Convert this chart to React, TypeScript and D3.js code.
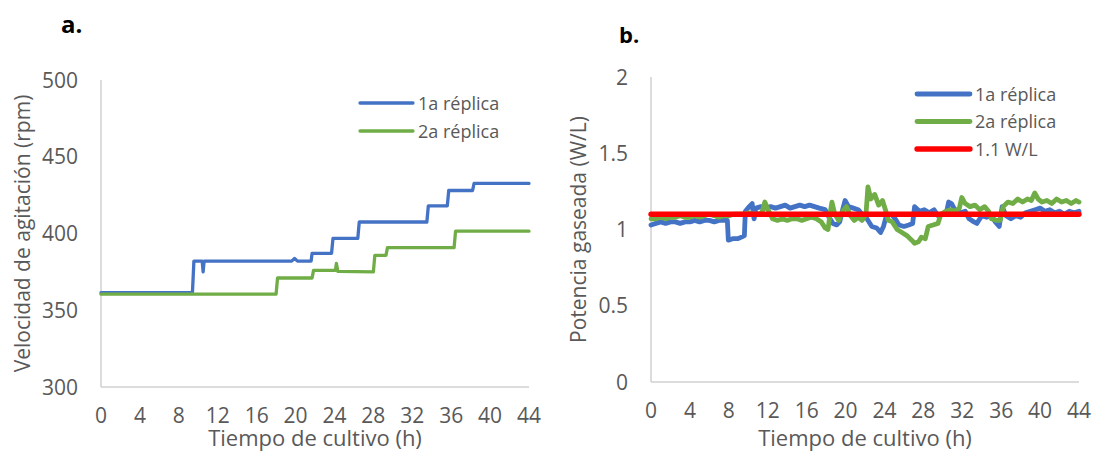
import React from "react";
import * as d3 from "d3";

type Pt = [number, number];

// Shared axis ticks
const hourTicks = [0, 4, 8, 12, 16, 20, 24, 28, 32, 36, 40, 44];
const rpmTicks = [300, 350, 400, 450, 500];
const powerTicks = [0, 0.5, 1, 1.5, 2];

// Agitation speed (rpm) vs culture time (h)
const rpmReplica1: Pt[] = [
  [0, 361.4], [9.4, 361.4], [9.55, 382], [10.4, 382], [10.5, 375], [10.6, 382],
  [19.6, 382], [19.9, 383.8], [20.2, 382], [21.6, 382], [21.7, 387], [23.7, 387],
  [23.85, 396.8], [26.4, 396.8], [26.55, 407.5], [33.5, 407.5], [33.65, 418],
  [35.6, 418], [35.75, 428], [38.2, 428], [38.35, 432.6], [44, 432.6],
];
const rpmReplica2: Pt[] = [
  [0, 360.5], [18.0, 360.5], [18.15, 371], [21.7, 371], [21.85, 376], [24.1, 376],
  [24.2, 380.5], [24.35, 375.3], [28.0, 375], [28.15, 385.8], [29.3, 385.8],
  [29.45, 390.8], [36.3, 390.8], [36.45, 401.5], [44, 401.5],
];

// Gassed power (W/L) vs culture time (h)
const powerReplica1: Pt[] = [
  [0, 1.03], [0.5, 1.04], [1, 1.05], [1.5, 1.04], [2, 1.05], [2.5, 1.05], [3, 1.04],
  [3.5, 1.05], [4, 1.05], [4.5, 1.06], [5, 1.05], [5.5, 1.06], [6, 1.06], [6.5, 1.05],
  [7, 1.06], [7.5, 1.06], [7.85, 1.06], [7.95, 0.93], [8.4, 0.94], [8.9, 0.94],
  [9.3, 0.95], [9.6, 0.96], [9.7, 1.12], [10.1, 1.15], [10.4, 1.17], [10.6, 1.07],
  [10.8, 1.14], [11.3, 1.15], [11.8, 1.14], [12.3, 1.15], [12.8, 1.14], [13.3, 1.15],
  [13.8, 1.16], [14.3, 1.14], [14.8, 1.15], [15.3, 1.16], [15.8, 1.15], [16.3, 1.16],
  [16.8, 1.15], [17.3, 1.14], [17.9, 1.13], [18.3, 1.08], [18.7, 1.04], [19.1, 1.03],
  [19.4, 1.05], [19.7, 1.13], [19.95, 1.19], [20.3, 1.15], [20.8, 1.14], [21.3, 1.13],
  [21.7, 1.1], [22.2, 1.07], [22.7, 1.02], [23.2, 1.01], [23.6, 0.98], [23.9, 1.02],
  [24.2, 1.09], [24.7, 1.1], [25.1, 1.07], [25.5, 1.03], [26, 1.02], [26.5, 1.03],
  [26.9, 1.04], [27.1, 1.15], [27.6, 1.12], [28.1, 1.13], [28.6, 1.11], [29.1, 1.13],
  [29.5, 1.09], [30, 1.1], [30.4, 1.12], [30.6, 1.18], [30.9, 1.17], [31.3, 1.12],
  [31.8, 1.11], [32.3, 1.12], [32.7, 1.07], [33.2, 1.05], [33.5, 1.04], [34, 1.09],
  [34.5, 1.08], [35, 1.09], [35.4, 1.05], [35.8, 1.02], [36.1, 1.15], [36.5, 1.09],
  [37, 1.07], [37.5, 1.09], [38, 1.08], [38.5, 1.11], [39, 1.12], [39.5, 1.13],
  [40, 1.14], [40.5, 1.12], [41, 1.13], [41.5, 1.11], [42, 1.12], [42.5, 1.1],
  [43, 1.12], [43.5, 1.11], [44, 1.12],
];
const powerReplica2: Pt[] = [
  [0, 1.07], [0.5, 1.07], [1, 1.08], [1.5, 1.07], [2, 1.08], [2.5, 1.08], [3, 1.09],
  [3.5, 1.08], [4, 1.08], [4.5, 1.09], [5, 1.08], [5.5, 1.09], [6, 1.1], [6.5, 1.09],
  [7, 1.08], [7.5, 1.09], [8, 1.09], [8.5, 1.1], [9, 1.1], [9.5, 1.1], [10, 1.11],
  [10.5, 1.1], [11, 1.1], [11.4, 1.11], [11.7, 1.18], [12.1, 1.12], [12.5, 1.07],
  [13, 1.06], [13.5, 1.07], [14, 1.06], [14.5, 1.07], [15, 1.07], [15.5, 1.06],
  [16, 1.07], [16.5, 1.08], [17, 1.07], [17.5, 1.05], [17.9, 1.01], [18.2, 1.0],
  [18.4, 1.1], [18.6, 1.18], [18.9, 1.1], [19.3, 1.06], [19.7, 1.12], [20.1, 1.15],
  [20.5, 1.09], [20.9, 1.06], [21.3, 1.08], [21.7, 1.06], [22.1, 1.1], [22.3, 1.28],
  [22.6, 1.2], [23, 1.23], [23.4, 1.16], [23.8, 1.19], [24.1, 1.13], [24.4, 1.06],
  [24.8, 1.05], [25.3, 1.0], [25.8, 0.98], [26.3, 0.96], [26.8, 0.93], [27.1, 0.91],
  [27.5, 0.92], [27.8, 0.95], [28.2, 0.94], [28.5, 1.02], [29, 1.03], [29.5, 1.04],
  [29.8, 1.1], [30.3, 1.12], [30.8, 1.13], [31.3, 1.12], [31.7, 1.14], [31.95, 1.21],
  [32.3, 1.17], [32.8, 1.15], [33.3, 1.16], [33.8, 1.13], [34.3, 1.15], [34.7, 1.12],
  [35, 1.07], [35.5, 1.06], [35.9, 1.06], [36.2, 1.15], [36.7, 1.18], [37.2, 1.17],
  [37.7, 1.2], [38.2, 1.18], [38.7, 1.2], [39.1, 1.19], [39.45, 1.24], [39.8, 1.2],
  [40.2, 1.18], [40.7, 1.19], [41.2, 1.17], [41.7, 1.2], [42.2, 1.18], [42.7, 1.19],
  [43.2, 1.17], [43.7, 1.19], [44, 1.18],
];
const targetPower = 1.1;
const targetSpan = [0, 44];

const BLUE = "#4472C4";
const GREEN = "#70AD47";
const RED = "#FF0000";
const TEXT = "#595959";
const AXIS = "#D0D0D0";
const FONT = "'Open Sans', 'Noto Sans', sans-serif";

type Series = { name: string; data: Pt[]; color: string; width: number };

type PanelProps = {
  tag: string;
  tagX: number;
  tagY: number;
  tagSize: number;
  left: number;
  right: number;
  top: number;
  bottom: number;
  yDomain: [number, number];
  yTicks: number[];
  yTitle: string;
  yTitleX: number;
  tickY: number;
  titleY: number;
  series: Series[];
  legendX: number;
  legendY: number;
  legendGap: number;
};

function Panel(p: PanelProps) {
  const x = d3.scaleLinear().domain([0, 44]).range([p.left, p.right]);
  const y = d3.scaleLinear().domain(p.yDomain).range([p.bottom, p.top]);
  const line = d3
    .line<Pt>()
    .x((d) => x(d[0]))
    .y((d) => y(d[1]));
  const midX = (p.left + p.right) / 2;
  const midY = (p.top + p.bottom) / 2;

  return (
    <g fontFamily={FONT}>
      <text x={p.tagX} y={p.tagY} fontSize={p.tagSize} fontWeight="bold" fill="#000">
        {p.tag}
      </text>
      {/* axes */}
      <line x1={p.left} x2={p.left} y1={p.top} y2={p.bottom} stroke={AXIS} strokeWidth={1.5} />
      <line x1={p.left} x2={p.right} y1={p.bottom} y2={p.bottom} stroke={AXIS} strokeWidth={1.5} />
      {p.yTicks.map((t) => (
        <text
          key={"y" + t}
          x={p.left - 23}
          y={y(t) + 7.5}
          textAnchor="end"
          fontSize={21}
          fill={TEXT}
        >
          {String(t)}
        </text>
      ))}
      {hourTicks.map((t) => (
        <text key={"x" + t} x={x(t)} y={p.tickY} textAnchor="middle" fontSize={21} fill={TEXT}>
          {String(t)}
        </text>
      ))}
      <text x={midX} y={p.titleY} textAnchor="middle" fontSize={22} fill={TEXT}>
        Tiempo de cultivo (h)
      </text>
      <text
        transform={`translate(${p.yTitleX},${midY}) rotate(-90)`}
        textAnchor="middle"
        dominantBaseline="central"
        fontSize={21}
        fill={TEXT}
      >
        {p.yTitle}
      </text>
      {/* data lines */}
      {p.series.map((s) => (
        <path
          key={s.name}
          d={line(s.data) || ""}
          fill="none"
          stroke={s.color}
          strokeWidth={s.width}
          strokeLinejoin="round"
          strokeLinecap="round"
        />
      ))}
      {/* legend */}
      {p.series.map((s, i) => {
        const ly = p.legendY + i * p.legendGap;
        return (
          <g key={"lg" + s.name}>
            <line
              x1={p.legendX}
              x2={p.legendX + 53}
              y1={ly}
              y2={ly}
              stroke={s.color}
              strokeWidth={s.width}
              strokeLinecap="round"
            />
            <text x={p.legendX + 58} y={ly + 6.5} fontSize={18} fill={TEXT}>
              {s.name}
            </text>
          </g>
        );
      })}
    </g>
  );
}

export default function App() {
  const target: Pt[] = targetSpan.map((t) => [t, targetPower] as Pt);
  return (
    <svg
      width={1094}
      height={453}
      style={{ position: "absolute", left: 0, top: 0, background: "#fff" }}
    >
      <rect width={1094} height={453} fill="#fff" />
      <Panel
        tag="a."
        tagX={61}
        tagY={33}
        tagSize={24}
        left={101}
        right={529}
        top={80}
        bottom={387}
        yDomain={[300, 500]}
        yTicks={rpmTicks}
        yTitle="Velocidad de agitación (rpm)"
        yTitleX={22}
        tickY={423}
        titleY={446}
        series={[
          { name: "1a réplica", data: rpmReplica1, color: BLUE, width: 3.3 },
          { name: "2a réplica", data: rpmReplica2, color: GREEN, width: 3.3 },
        ]}
        legendX={360}
        legendY={103}
        legendGap={28}
      />
      <Panel
        tag="b."
        tagX={619}
        tagY={43}
        tagSize={22}
        left={651}
        right={1079}
        top={77}
        bottom={382}
        yDomain={[0, 2]}
        yTicks={powerTicks}
        yTitle="Potencia gaseada (W/L)"
        yTitleX={578}
        tickY={418}
        titleY={446}
        series={[
          { name: "1a réplica", data: powerReplica1, color: BLUE, width: 4.8 },
          { name: "2a réplica", data: powerReplica2, color: GREEN, width: 4.8 },
          { name: "1.1 W/L", data: target, color: RED, width: 5.3 },
        ]}
        legendX={917}
        legendY={94}
        legendGap={27.5}
      />
    </svg>
  );
}
